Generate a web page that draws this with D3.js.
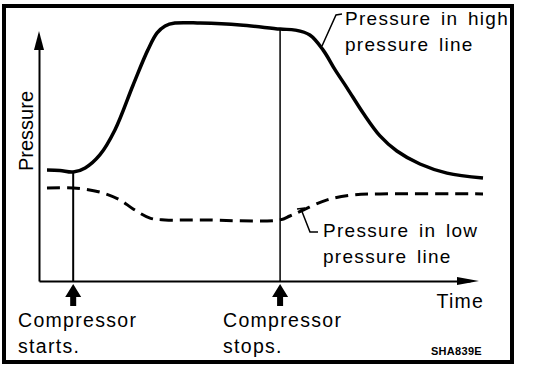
<!DOCTYPE html>
<html>
<head>
<meta charset="utf-8">
<script src="https://cdn.jsdelivr.net/npm/d3@7"></script>
<style>
  body { margin: 0; background: #fff; }
  text { font-family: "Liberation Sans", Arial, sans-serif; fill: #000; }
</style>
</head>
<body>
<svg id="chart" width="544" height="370"></svg>
<script>
// time (0..100) and pressure (0..100)
var highTime = [1.8, 4.7, 7.7, 10.4, 13.7, 17.1, 21.2, 24.5, 26.6, 28.4, 30.6, 36.3, 45.3, 54.3, 57.7, 61.0, 64.0, 66.7, 69.4, 73.0, 76.8, 80.6, 85.8, 91.9, 100];
var highPressure = [42.7, 42.5, 41.9, 43.5, 48.5, 58.1, 75.4, 88.8, 95.4, 98.1, 99.2, 99.2, 98.5, 96.9, 96.5, 94.6, 88.8, 81.2, 74.2, 64.6, 55.8, 50.0, 45.0, 41.5, 39.6];

var lowTime = [1.8, 7.7, 13.7, 18.2, 21.2, 25.0, 28.4, 36.3, 54.3, 56.5, 59.5, 64.9, 70.7, 76.8, 100];
var lowPressure = [35.8, 35.8, 34.2, 31.2, 27.7, 24.2, 23.5, 23.5, 23.5, 25.0, 27.3, 31.2, 33.1, 33.5, 33.5];

var eventTimes = [7.7, 54.3];
var eventLabels = [["Compressor", "starts."], ["Compressor", "stops."]];
var seriesLabels = [["Pressure in high", "pressure line"], ["Pressure in low", "pressure line"]];

var svg = d3.select("#chart");

var x = d3.scaleLinear().domain([0, 100]).range([39, 483]);
var y = d3.scaleLinear().domain([0, 100]).range([281, 21]);

// frame
svg.append("rect")
	.attr("x", 4).attr("y", 6)
	.attr("width", 508).attr("height", 356)
	.attr("fill", "none")
	.attr("stroke", "#000")
	.attr("stroke-width", 4);

// axes without ticks
svg.append("g")
	.attr("transform", "translate(0," + y(0) + ")")
	.call(d3.axisBottom(x.copy().range([39, 470])).tickValues([]).tickSizeOuter(0));
svg.append("g")
	.attr("transform", "translate(" + x(0) + ",0)")
	.call(d3.axisLeft(y.copy().range([281, 45])).tickValues([]).tickSizeOuter(0));
svg.selectAll(".domain").attr("stroke", "#000").attr("stroke-width", 2);

// arrow heads on the axes
svg.append("path")
	.attr("d", "M" + x(0) + ",31 L" + (x(0) - 5) + ",50 L" + (x(0) + 5) + ",50 Z")
	.attr("fill", "#000");
svg.append("path")
	.attr("d", "M479," + y(0) + " L457," + (y(0) - 4) + " L457," + (y(0) + 4) + " Z")
	.attr("fill", "#000");

svg.append("text")
	.attr("transform", "translate(33,131) rotate(-90)")
	.attr("text-anchor", "middle")
	.style("font-size", "20px")
	.text("Pressure");

svg.append("text")
	.attr("x", 484).attr("y", 308)
	.attr("text-anchor", "end")
	.style("font-size", "19.5px")
	.style("letter-spacing", "1.2px")
	.text("Time");

// compressor start / stop markers
var highAt = function(t) { return highPressure[highTime.indexOf(t)]; };
svg.selectAll(".marker")
	.data(eventTimes)
	.enter().append("line")
	.attr("class", "marker")
	.attr("x1", function(d) { return x(d); })
	.attr("x2", function(d) { return x(d); })
	.attr("y1", function(d) { return y(highAt(d)); })
	.attr("y2", y(0))
	.attr("stroke", "#000")
	.attr("stroke-width", function(d, i) { return i == 0 ? 2 : 1.5; });

svg.selectAll(".upArrow")
	.data(eventTimes)
	.enter().append("path")
	.attr("class", "upArrow")
	.attr("d", function(d) {
		var cx = x(d);
		return "M" + cx + ",284 L" + (cx - 8) + ",297 L" + (cx - 3) + ",297 L" + (cx - 3) + ",306 L" +
			(cx + 3) + ",306 L" + (cx + 3) + ",297 L" + (cx + 8) + ",297 Z";
	})
	.attr("fill", "#000");

var evText = svg.selectAll(".evLabel")
	.data(eventLabels)
	.enter().append("text")
	.attr("class", "evLabel")
	.attr("x", function(d, i) { return i == 0 ? 18 : 223; })
	.attr("y", 327)
	.style("font-size", "19.5px")
	.style("letter-spacing", "1.3px");
evText.append("tspan").text(function(d) { return d[0]; });
evText.append("tspan")
	.attr("x", function(d, i) { return i == 0 ? 18 : 223; })
	.attr("dy", 26)
	.text(function(d) { return d[1]; });

// curves
var line = d3.line().curve(d3.curveCatmullRom.alpha(0.5))
	.x(function(d) { return x(d[0]); })
	.y(function(d) { return y(d[1]); });

svg.append("path")
	.datum(d3.zip(highTime, highPressure))
	.attr("d", line)
	.attr("fill", "none")
	.attr("stroke", "#000")
	.attr("stroke-width", 3.5);

svg.append("path")
	.datum(d3.zip(lowTime, lowPressure))
	.attr("d", line)
	.attr("fill", "none")
	.attr("stroke", "#000")
	.attr("stroke-width", 3)
	.attr("stroke-dasharray", "13,7");

// leader lines
svg.append("path")
	.attr("d", "M342,14 L336,15 L322,46")
	.attr("fill", "none").attr("stroke", "#000").attr("stroke-width", 1.5);
svg.append("path")
	.attr("d", "M297,209 L305,208 M301,209 L310,232 L318,232")
	.attr("fill", "none").attr("stroke", "#000").attr("stroke-width", 1.5);

var labelPos = [[345, 25], [323, 237]];
var sText = svg.selectAll(".sLabel")
	.data(seriesLabels)
	.enter().append("text")
	.attr("class", "sLabel")
	.attr("x", function(d, i) { return labelPos[i][0]; })
	.attr("y", function(d, i) { return labelPos[i][1]; })
	.style("font-size", "19px")
	.style("letter-spacing", "1.3px")
	.style("word-spacing", "3px");
sText.append("tspan").text(function(d) { return d[0]; });
sText.append("tspan")
	.attr("x", function(d, i) { return labelPos[i][0]; })
	.attr("dy", 26)
	.text(function(d) { return d[1]; });

svg.append("text")
	.attr("x", 482).attr("y", 355)
	.attr("text-anchor", "end")
	.style("font-size", "11px")
	.style("font-weight", "bold")
	.style("letter-spacing", "0.3px")
	.text("SHA839E");
</script>
</body>
</html>
